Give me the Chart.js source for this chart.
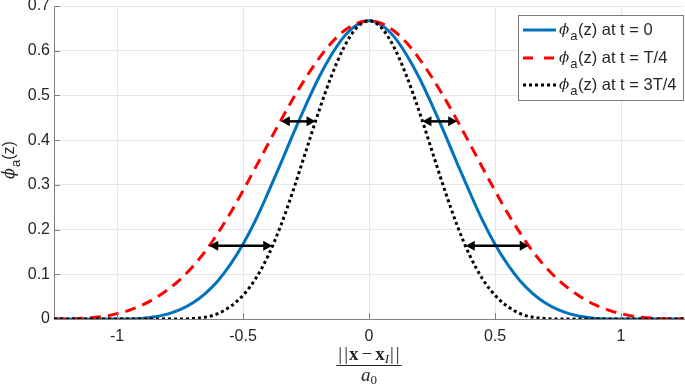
<!DOCTYPE html>
<html><head><meta charset="utf-8">
<script src="https://cdn.jsdelivr.net/npm/chart.js@4"></script>
<style>html,body{margin:0;padding:0;background:#fff}#wrap{width:685px;height:385px;position:relative}</style>
</head><body><div id="wrap"><canvas id="c"></canvas></div>
<script>
// x positions ||x - x_I|| / a0
const xs = [-1.25,-1.2,-1.15,-1.1,-1.05,-1.0,-0.95,-0.9,-0.85,-0.8,-0.75,-0.7,-0.65,-0.6,-0.55,-0.5,-0.45,-0.4,-0.35,-0.3,-0.25,-0.2,-0.15,-0.1,-0.05,0,
  0.05,0.1,0.15,0.2,0.25,0.3,0.35,0.4,0.45,0.5,0.55,0.6,0.65,0.7,0.75,0.8,0.85,0.9,0.95,1.0,1.05,1.1,1.15,1.2,1.25];
// phi_a(z) at t = 0
const phiT0 = [0,0,0,0,0,0,0,0.001,0.005,0.011,0.021,0.036,0.057,0.085,0.122,0.167,0.221,0.283,0.348,0.415,0.479,0.539,0.590,0.631,0.657,0.667,
  0.657,0.631,0.590,0.539,0.479,0.415,0.348,0.283,0.221,0.167,0.122,0.085,0.057,0.036,0.021,0.011,0.005,0.001,0,0,0,0,0,0,0];
// phi_a(z) at t = T/4
const phiT4 = [0,0,0.001,0.003,0.006,0.012,0.020,0.031,0.046,0.065,0.088,0.117,0.151,0.192,0.237,0.287,0.339,0.392,0.444,0.494,0.540,0.582,0.617,0.644,0.661,0.667,
  0.661,0.644,0.617,0.582,0.540,0.494,0.444,0.392,0.339,0.287,0.237,0.192,0.151,0.117,0.088,0.065,0.046,0.031,0.020,0.012,0.006,0.003,0.001,0,0];
// phi_a(z) at t = 3T/4
const phi3T4 = [0,0,0,0,0,0,0,0,0,0,0,0.001,0.004,0.012,0.028,0.053,0.090,0.142,0.209,0.289,0.376,0.463,0.542,0.607,0.651,0.667,
  0.651,0.607,0.542,0.463,0.376,0.289,0.209,0.142,0.090,0.053,0.028,0.012,0.004,0.001,0,0,0,0,0,0,0,0,0,0,0];
const seriesLabels = ['(z) at t = 0','(z) at t = T/4','(z) at t = 3T/4'];
const xTicks = [-1,-0.5,0,0.5,1];
const yTicks = [0,0.1,0.2,0.3,0.4,0.5,0.6,0.7];
// double arrows: y level, from x, to x
const arrowY = [0.442,0.442,0.164,0.164];
const arrowFrom = [-0.350,0.212,-0.634,0.384];
const arrowTo = [-0.212,0.350,-0.384,0.634];

const TXT = '#262626';
const pts = a => xs.map((x,i)=>({x:x,y:a[i]}));

function drawRuns(ctx, runs, x, y, align){
  let w = 0;
  runs.forEach(r=>{ctx.font=r.font; r.w=ctx.measureText(r.t).width; w+=r.w + (r.sp||0) + (r.pre||0);});
  let cx = align==='center' ? x - w/2 : x;
  runs.forEach(r=>{ctx.font=r.font; cx += (r.pre||0); ctx.fillText(r.t, cx, y+(r.dy||0)); cx += r.w + (r.sp||0);});
  return w;
}

const deco = {
  id:'deco',
  afterDatasetsDraw(chart){
    const ctx=chart.ctx, xs_=chart.scales.x, ys_=chart.scales.y;
    ctx.save();
    ctx.strokeStyle='#000'; ctx.fillStyle='#000'; ctx.lineWidth=2.5;
    for(let i=0;i<arrowY.length;i++){
      const y=ys_.getPixelForValue(arrowY[i]);
      const x0=xs_.getPixelForValue(arrowFrom[i]), x1=xs_.getPixelForValue(arrowTo[i]);
      const hl=9, hw=5;
      ctx.beginPath(); ctx.moveTo(x0+hl-1,y); ctx.lineTo(x1-hl+1,y); ctx.stroke();
      ctx.beginPath(); ctx.moveTo(x0,y); ctx.lineTo(x0+hl,y-hw); ctx.lineTo(x0+hl,y+hw); ctx.closePath(); ctx.fill();
      ctx.beginPath(); ctx.moveTo(x1,y); ctx.lineTo(x1-hl,y-hw); ctx.lineTo(x1-hl,y+hw); ctx.closePath(); ctx.fill();
    }
    ctx.restore();
  },
  afterDraw(chart){
    const ctx=chart.ctx, a=chart.chartArea, xs_=chart.scales.x, ys_=chart.scales.y;
    ctx.save();
    // inward ticks
    ctx.strokeStyle='#808080'; ctx.lineWidth=1;
    yTicks.forEach(v=>{const y=Math.round(ys_.getPixelForValue(v))+0.5; ctx.beginPath(); ctx.moveTo(a.left,y); ctx.lineTo(a.left+6,y); ctx.stroke();});
    xTicks.forEach(v=>{const x=Math.round(xs_.getPixelForValue(v))+0.5; ctx.beginPath(); ctx.moveTo(x,a.bottom); ctx.lineTo(x,a.bottom-6); ctx.stroke();});
    // legend
    const lx=518, ly=15, lw=165, lh=85;
    ctx.fillStyle='#fff'; ctx.fillRect(lx,ly,lw,lh);
    ctx.strokeStyle='#7a7a7a'; ctx.lineWidth=1; ctx.strokeRect(lx+0.5,ly+0.5,lw,lh);
    const rows=[30,58,85];
    const styles=[{c:'#0072BD',d:[]},{c:'#FF0000',d:[10,11]},{c:'#000000',d:[3,3]}];
    ctx.textBaseline='middle'; ctx.fillStyle=TXT;
    rows.forEach((ry,i)=>{
      ctx.save(); ctx.strokeStyle=styles[i].c; ctx.lineWidth=3; ctx.setLineDash(styles[i].d);
      ctx.beginPath(); ctx.moveTo(523,ry); ctx.lineTo(556,ry); ctx.stroke(); ctx.restore();
      ctx.fillStyle=TXT;
      drawRuns(ctx,[{t:'ϕ',font:'italic 15px "DejaVu Serif"',dy:0,sp:1},{t:'a',font:'13px "Liberation Sans"',dy:6,sp:0.5},{t:seriesLabels[i],font:'16.5px "Liberation Sans"',dy:0}],559,ry,'left');
    });
    // y title
    ctx.save(); ctx.translate(10,160); ctx.rotate(-Math.PI/2); ctx.fillStyle=TXT; ctx.textBaseline='middle';
    drawRuns(ctx,[{t:'ϕ',font:'italic 16px "DejaVu Serif"',dy:0,sp:1},{t:'a',font:'13px "Liberation Sans"',dy:6},{t:'(z)',font:'16px "Liberation Sans"',dy:0}],0,0,'center');
    ctx.restore();
    // x title (fraction)
    const cx=(a.left+a.right)/2;
    ctx.fillStyle=TXT; ctx.textBaseline='alphabetic';
    const F='19px "Liberation Serif"', FB='bold 19px "Liberation Serif"';
    const w=drawRuns(ctx,[{t:'|',font:F,sp:2},{t:'|',font:F,sp:1},{t:'x',font:FB},{t:'−',font:F,pre:3,sp:3},{t:'x',font:FB},{t:'I',font:'italic 13px "Liberation Serif"',dy:3,sp:1},{t:'|',font:F,sp:2},{t:'|',font:F}],cx,360,'center');
    ctx.strokeStyle=TXT; ctx.lineWidth=1;
    ctx.beginPath(); ctx.moveTo(cx-w/2-2,365.5); ctx.lineTo(cx+w/2+2,365.5); ctx.stroke();
    drawRuns(ctx,[{t:'a',font:'italic 19px "Liberation Serif"'},{t:'0',font:'13px "Liberation Serif"',dy:3}],cx,381,'center');
    ctx.restore();
  }
};

const ds = (label,data,color,dash,order)=>({label,data:pts(data),borderColor:color,borderWidth:3,borderDash:dash,pointRadius:0,fill:false,cubicInterpolationMode:'monotone',order,borderCapStyle:'butt'});

new Chart(document.getElementById('c'),{
  type:'line',
  data:{datasets:[
    ds('t=0',phiT0,'#0072BD',[],3),
    ds('t=T/4',phiT4,'#FF0000',[11,7],2),
    ds('t=3T/4',phi3T4,'#000000',[3,3],1)
  ]},
  options:{
    responsive:true, maintainAspectRatio:false, animation:false,
    layout:{padding:{top:6,right:1,left:0,bottom:0}},
    plugins:{legend:{display:false},tooltip:{enabled:false}},
    scales:{
      x:{type:'linear',min:-1.25,max:1.25,
        afterBuildTicks:s=>{s.ticks=xTicks.map(v=>({value:v}));},
        afterFit:s=>{s.height=66; s.paddingLeft=0; s.paddingRight=0;},
        grid:{color:'#e6e6e6',drawTicks:false,lineWidth:1},
        border:{color:'#808080',width:1},
        ticks:{padding:8,color:TXT,font:{family:'"Liberation Sans"',size:16},maxRotation:0,callback:v=>String(v)}
      },
      y:{type:'linear',min:0,max:0.7,
        afterBuildTicks:s=>{s.ticks=yTicks.map(v=>({value:v}));},
        afterFit:s=>{s.width=54; s.paddingTop=0; s.paddingBottom=0;},
        grid:{color:'#e6e6e6',drawTicks:false,lineWidth:1},
        border:{color:'#808080',width:1},
        ticks:{padding:4,color:TXT,font:{family:'"Liberation Sans"',size:16},callback:v=>String(v)}
      }
    }
  },
  plugins:[deco]
});
</script></body></html>
